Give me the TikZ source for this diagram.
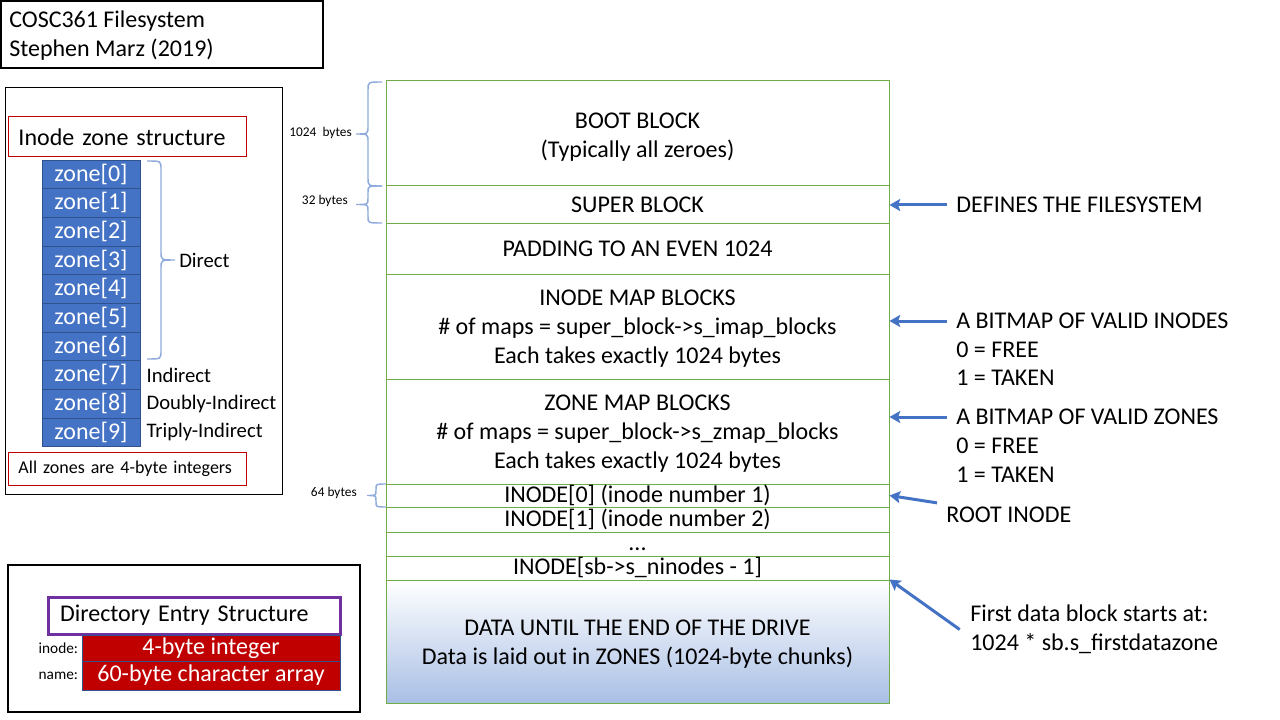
\documentclass[tikz,border=0pt]{standalone}
\usepackage{fontspec}
\setmainfont{Carlito}
\usetikzlibrary{positioning,arrows.meta}
\definecolor{fsgreen}{RGB}{112,173,71}
\definecolor{zoneblue}{RGB}{68,114,196}
\definecolor{zoneedge}{RGB}{47,82,143}
\definecolor{boxred}{RGB}{192,0,0}
\definecolor{dirred}{RGB}{192,0,0}
\definecolor{dirpurple}{RGB}{112,48,160}
\definecolor{bracecol}{RGB}{143,170,220}
\definecolor{datablue}{RGB}{169,191,229}
\begin{document}
\begin{tikzpicture}[x=0.75pt,y=0.75pt,yscale=-1,xscale=1,
  every node/.style={font=\fontsize{18}{21.6}\selectfont},
  block/.style={draw=fsgreen, line width=0.75pt, minimum width=377.25pt, inner sep=0pt, align=center},
  thin/.style={text height=13pt, text depth=3pt},
  zone/.style={draw=zoneedge, line width=0.75pt, fill=zoneblue, text=white, minimum width=73.5pt, minimum height=21.5pt, inner sep=0pt, outer sep=0pt, thin},
  note/.style={anchor=west, inner sep=0.75pt},
  sizelabel/.style={anchor=east, inner sep=0.75pt, font=\fontsize{10}{12}\selectfont},
  ptr/.style={draw=zoneblue, line width=2.25pt, -{Stealth[length=8pt,width=9pt,inset=1.5pt]}},
  sizebrace/.style={draw=bracecol, line width=1.1pt},
  redbox/.style={draw=boxred, line width=0.75pt, anchor=west, inner xsep=7.5pt, inner ysep=0pt, text width=163.5pt, align=left, minimum width=178.5pt},
  dirrow/.style={draw=zoneedge, line width=0.75pt, fill=dirred, text=white, minimum width=193.5pt, inner sep=0pt, outer sep=0pt}
]
\useasboundingbox (0,0) rectangle (1280,720);

%Shape: Rectangle (title)
\draw [line width=1.5pt] (1,1) rectangle (323,68) ;
% Text Node
\node [note, align=left] (title) at (8,36) {COSC361 Filesystem\\Stephen Marz (2019)};

%Shape: Rectangle (inode zones frame)
\draw [line width=0.75pt] (5,88) rectangle (282,494) ;
% Text Node
\node [redbox, minimum height=30pt] (zonehead) at (8,137) {Inode zone structure};
% Zones
\node [zone] (z0) at (91,174.35) {zone[0]};
\node [zone, below=0pt of z0] (z1) {zone[1]};
\node [zone, below=0pt of z1] (z2) {zone[2]};
\node [zone, below=0pt of z2] (z3) {zone[3]};
\node [zone, below=0pt of z3] (z4) {zone[4]};
\node [zone, below=0pt of z4] (z5) {zone[5]};
\node [zone, below=0pt of z5] (z6) {zone[6]};
\node [zone, below=0pt of z6] (z7) {zone[7]};
\node [zone, below=0pt of z7] (z8) {zone[8]};
\node [zone, below=0pt of z8] (z9) {zone[9]};
%Shape: Brace (direct)
\draw [sizebrace] (147,161) .. controls (161,161) .. (161,169) -- (161,252) .. controls (161,260) .. (175,260) .. controls (161,260) .. (161,268) -- (161,351) .. controls (161,359) .. (147,359) ;
% Text Node
\node [note, font=\fontsize{15.5}{18}\selectfont] (direct) at (178,260) {Direct};
\node [note, right=4pt of z7, anchor=west, font=\fontsize{15.5}{18}\selectfont] (indirect) {Indirect};
\node [note, right=4pt of z8, anchor=west, font=\fontsize{15.5}{18}\selectfont] (dbl) {Doubly-Indirect};
\node [note, right=4pt of z9, anchor=west, font=\fontsize{15.5}{18}\selectfont] (tpl) {Triply-Indirect};
% Text Node
\node [redbox, minimum height=24.75pt, font=\fontsize{13.5}{16}\selectfont] (zonefoot) at (8,468.5) {All zones are 4-byte integers};

%Shape: Rectangle (directory entry frame)
\draw [line width=1.1pt] (8,565) rectangle (360,712) ;
% Text Node
\node [draw=dirpurple, line width=2.25pt, inner xsep=9pt, inner ysep=0pt, text width=201pt, align=left, minimum width=219pt, minimum height=27.75pt] (dirhead) at (194,615.5) {Directory Entry Structure};
\node [dirrow, minimum height=19.5pt] (inorow) at (211,648) {4-byte integer};
\node [dirrow, minimum height=21.75pt, below=0pt of inorow] (namerow) {60-byte character array};
\node [inner sep=0.75pt, left=2pt of inorow, font=\fontsize{11.5}{14}\selectfont] (inolbl) {inode:};
\node [inner sep=0.75pt, left=2pt of namerow, font=\fontsize{11.5}{14}\selectfont] (namelbl) {name:};

% Blocks of the drive
\node [block, minimum height=78.75pt] (boot) at (637.5,133.5) {\rule{0pt}{17pt}BOOT BLOCK\\(Typically all zeroes)};
\node [block, minimum height=28.5pt] (super) at (637.5,205) {SUPER BLOCK};
\node [block, minimum height=37.5pt] (pad) at (637.5,249) {PADDING TO AN EVEN 1024};
\node [block, minimum height=78.75pt] (imap) at (637.5,326.5) {\rule{0pt}{15pt}INODE MAP BLOCKS\\\# of maps = super\_block->s\_imap\_blocks\\Each takes exactly 1024 bytes};
\node [block, minimum height=78.75pt] (zmap) at (637.5,431.5) {\rule{0pt}{15pt}ZONE MAP BLOCKS\\\# of maps = super\_block->s\_zmap\_blocks\\Each takes exactly 1024 bytes};
\node [block, thin, minimum height=17.25pt] (ino0) at (637.5,495.5) {INODE[0] (inode number 1)};
\node [block, thin, minimum height=18.75pt] (ino1) at (637.5,519.5) {INODE[1] (inode number 2)};
\node [block, thin, minimum height=18pt] (dots) at (637.5,544) {...};
\node [block, thin, minimum height=18pt] (inolast) at (637.5,568) {INODE[sb->s\_ninodes - 1]};
\node [block, minimum height=92.25pt, top color=white, bottom color=datablue] (data) at (637.5,641.5) {\rule{0pt}{16pt}DATA UNTIL THE END OF THE DRIVE\\Data is laid out in ZONES (1024-byte chunks)};

%Shape: Brace (sizes)
\draw [sizebrace] (382,82) .. controls (368,82) .. (368,90) -- (368,126) .. controls (368,134) .. (356,134) .. controls (368,134) .. (368,142) -- (368,178) .. controls (368,186) .. (382,186) ;
\draw [sizebrace] (382,186) .. controls (368,186) .. (368,192) -- (368,198.5) .. controls (368,204.5) .. (356,204.5) .. controls (368,204.5) .. (368,210.5) -- (368,217) .. controls (368,223) .. (382,223) ;
\draw [sizebrace] (386,484) .. controls (376,484) .. (376,489) -- (376,490.5) .. controls (376,495.5) .. (367,495.5) .. controls (376,495.5) .. (376,500.5) -- (376,502) .. controls (376,507) .. (386,507) ;
% Text Node
\node [sizelabel] (kb) at (353,133) {1024~ bytes};
\node [sizelabel] (sb) at (349,201) {32 bytes};
\node [sizelabel] (ib) at (358,493) {64 bytes};

% Text Node (notes)
\node [note] (defs) at (955,205) {DEFINES THE FILESYSTEM};
\node [note] (ibm) at (955,321) {A BITMAP OF VALID INODES};
\node [note] (ifree) at (955,350) {0 = FREE};
\node [note] (itaken) at (955,378) {1 = TAKEN};
\node [note] (zbm) at (955,417) {A BITMAP OF VALID ZONES};
\node [note] (zfree) at (955,446) {0 = FREE};
\node [note] (ztaken) at (955,475) {1 = TAKEN};
\node [note] (root) at (945,515) {ROOT INODE};
\node [note, align=left] (first) at (969,629.5) {First data block starts at:\\1024 * sb.s\_firstdatazone};

%Straight Lines
\draw [ptr] ([xshift=-6pt]defs.west) -- (super.east) ;
\draw [ptr] ([xshift=-6pt]ibm.west) -- (imap.east |- ibm.west) ;
\draw [ptr] ([xshift=-6pt]zbm.west) -- (zmap.east |- zbm.west) ;
\draw [ptr] ([shift={(-6pt,-2.25pt)}]root.north west) -- (ino0.east) ;
\draw [ptr] ([xshift=-7pt]first.west) -- (data.north east) ;

\end{tikzpicture}
\end{document}
